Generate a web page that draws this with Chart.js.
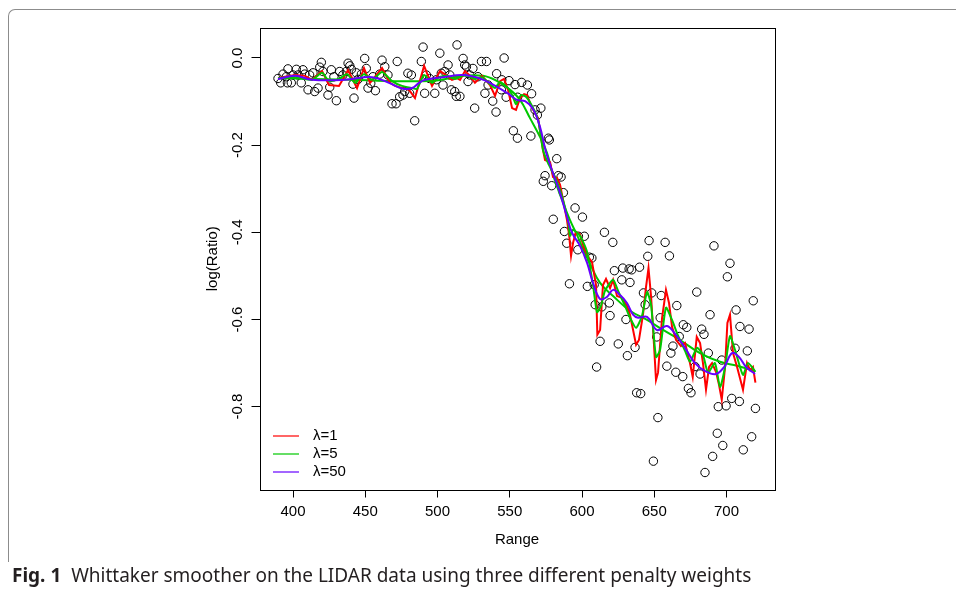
<!DOCTYPE html>
<html>
<head>
<meta charset="utf-8">
<script src="https://cdn.jsdelivr.net/npm/chart.js@4.4.1/dist/chart.umd.min.js"></script>
<style>
  body { margin: 0; background: #fff; }
  #wrap { position: relative; width: 956px; height: 593px; overflow: hidden; }
  #c { position: absolute; left: 0; top: 0; }
  .frame {
    position: absolute; left: 8px; top: 9px; width: 1000px; height: 552px;
    border-top: 1px solid #8c8c8c; border-left: 1px solid #8c8c8c;
    border-top-left-radius: 7px;
  }
  .cap {
    position: absolute; left: 12px; top: 562px; line-height: 26px;
    font-family: "Noto Sans", sans-serif; font-size: 19px; color: #231f20; white-space: nowrap;
  }
</style>
</head>
<body>
<div id="wrap">
  <canvas id="c" width="956" height="593"></canvas>
  <div class="frame"></div>
  <div class="cap"><b>Fig. 1</b>&nbsp; Whittaker smoother on the LIDAR data using three different penalty weights</div>
</div>
<script>
// LIDAR data
const pointRange = [
  389.6,391.5,393.1,395.4,396.5,396.1,398.8,400,402.3,403.5,405.7,406.9,408.1,410.4,411.5,413.8,415,417.3,418.5,419.6,420.7,424.2,425.4,426.5,428.3,430,432.3,434.5,436.9,438.1,439.3,440.4,441.5,442.2,443.8,445,447.3,449.6,450.7,451.9,453.8,455.3,457,460,
  461.6,463.5,465.7,468.5,471.3,472.1,473.8,476.1,477.3,479.5,480.7,481.9,484.2,488.8,490,491.1,492.3,494.5,498.1,499.2,501.6,502.6,503.8,505,507.3,508.5,509.6,511.9,513.5,513,515.5,517.7,518.8,520,521.1,522.3,524.5,525.7,528,530.4,532.8,533.9,535,
  538.2,540.5,540.9,544.2,544.5,546.1,547.5,549.5,553.6,555.4,558.2,562.2,565.1,
  552.5,555.3,564.6,567.5,571.5,569.1,576.7,577.4,582.5,574.4,573.2,579,583.6,585.5,587.1,595.2,600.3,580.1,587.8,589.4,597.5,601.6,597.1,605.1,606.8,615.5,621.3,591.3,603.7,608.4,622.4,628.2,627.5,632.6,
  634.4,639.8,633.2,646.4,645.5,657.5,660.5,609.1,613.7,618.9,619.4,630.4,642.5,648.2,643.7,654.8,654.1,665.6,612.5,625.1,631.4,636.7,651.7,662.9,661.5,658.7,664.9,610.1,637.8,640.6,652.5,649.4,
  691.3,702.4,700.6,679.4,718.5,688.6,706.6,670.1,672.5,682.8,684.4,709.3,715.6,667.3,687.4,714.4,705.9,669.7,673.6,675.4,678.2,681.7,696.7,703.6,708.9,694.3,699.7,720,693.6,717.4,697.4,711.6,690.4,685.1
];
const pointLogRatio = [
  -0.047,-0.057,-0.037,-0.043,-0.025,-0.057,-0.057,-0.039,-0.026,-0.039,-0.057,-0.027,-0.037,-0.073,-0.039,-0.034,-0.077,-0.069,-0.021,-0.010,-0.031,-0.085,-0.067,-0.027,-0.043,-0.098,-0.031,-0.039,-0.031,-0.012,-0.018,-0.026,-0.060,-0.092,-0.034,-0.049,-0.037,-0.001,-0.024,-0.069,-0.058,-0.043,-0.075,-0.037,
  -0.005,-0.020,-0.039,-0.105,-0.105,-0.008,-0.089,-0.085,-0.077,-0.035,-0.081,-0.039,-0.144,-0.008,0.025,-0.081,-0.039,-0.047,-0.081,-0.050,0.011,-0.035,-0.062,-0.031,-0.016,-0.039,-0.073,-0.077,0.030,-0.088,-0.088,-0.001,-0.016,-0.020,-0.054,-0.039,-0.024,-0.115,-0.043,-0.008,-0.081,-0.008,-0.062,
  -0.099,-0.124,-0.036,-0.073,-0.050,0.000,-0.090,-0.052,-0.061,-0.090,-0.056,-0.062,-0.082,
  -0.167,-0.184,-0.179,-0.119,-0.115,-0.131,-0.184,-0.188,-0.231,-0.270,-0.283,-0.293,-0.270,-0.273,-0.309,-0.344,-0.365,-0.370,-0.398,-0.425,-0.409,-0.409,-0.440,-0.457,-0.459,-0.400,-0.423,-0.518,-0.524,-0.520,-0.488,-0.482,-0.509,-0.484,
  -0.486,-0.480,-0.515,-0.419,-0.455,-0.423,-0.454,-0.566,-0.571,-0.562,-0.591,-0.600,-0.539,-0.539,-0.566,-0.545,-0.596,-0.568,-0.650,-0.656,-0.683,-0.664,-0.640,-0.661,-0.677,-0.707,-0.721,-0.709,-0.768,-0.770,-0.825,-0.925,
  -0.431,-0.471,-0.502,-0.537,-0.557,-0.589,-0.578,-0.612,-0.618,-0.622,-0.634,-0.616,-0.622,-0.639,-0.677,-0.672,-0.666,-0.731,-0.758,-0.768,-0.708,-0.725,-0.693,-0.781,-0.788,-0.800,-0.798,-0.804,-0.861,-0.869,-0.889,-0.899,-0.914,-0.951
];

// smoothed curves
const lam1Range = [389.6,401.4,408.3,413.1,420.1,424.9,431.8,438.1,444.3,449.1,453.3,461.6,467.1,470.6,475.4,480.3,484.4,490.7,496.2,501.7,506.6,510,513.5,515.6,519,522.5,525.9,530.8,536.3,539.8,543.3,546,548.8,551.6,554.3,557.1,559.9,562,564.7,567.5,569.6,573,574.4,577.9,579.9,582.7,584.8,586.9,589.6,591,592.4,593.8,595.8,598.6,601.4,604.8,606.9,609.7,610.6,612.5,614.5,616.6,619.4,621.5,624.2,627.7,631.1,633.2,637.4,639.4,642.2,644.3,646,647.8,649.8,651.2,652.6,655.4,658.1,660.2,662.3,665.1,668.5,671.3,674.7,676.6,679.4,681.7,683.7,685.8,687.9,690,692.7,694.8,696.7,699,700.6,702.4,704.5,707.3,711.4,714.2,716.3,718.3,720];
const lam1Value = [-0.046,-0.039,-0.041,-0.050,-0.030,-0.062,-0.064,-0.028,-0.069,-0.023,-0.057,-0.023,-0.057,-0.064,-0.069,-0.073,-0.092,-0.018,-0.064,-0.030,-0.041,-0.050,-0.046,-0.050,-0.030,-0.041,-0.057,-0.041,-0.062,-0.087,-0.053,-0.048,-0.073,-0.115,-0.119,-0.092,-0.083,-0.085,-0.110,-0.126,-0.138,-0.211,-0.234,-0.239,-0.273,-0.275,-0.291,-0.326,-0.372,-0.404,-0.454,-0.424,-0.399,-0.404,-0.436,-0.459,-0.468,-0.521,-0.635,-0.624,-0.521,-0.507,-0.528,-0.509,-0.546,-0.550,-0.569,-0.589,-0.658,-0.647,-0.589,-0.525,-0.482,-0.548,-0.658,-0.739,-0.722,-0.596,-0.532,-0.562,-0.617,-0.647,-0.661,-0.654,-0.700,-0.732,-0.640,-0.654,-0.700,-0.761,-0.709,-0.700,-0.720,-0.750,-0.784,-0.709,-0.608,-0.589,-0.677,-0.709,-0.761,-0.700,-0.716,-0.709,-0.745];

const lam5Range = [389.6,401.4,413.1,420.1,424.9,431.8,437.4,442.9,449.1,454.7,461.6,468.5,475.4,482.4,485.8,490.7,496.2,501,506.6,512.1,519,525.9,530.8,536.3,539.8,543.3,548.8,552.2,554.3,557.8,561.2,565.4,569.6,573,576.5,581.3,585.5,590.3,591.7,593.8,598.6,603.5,607.6,610.4,613.1,615.9,621.5,624.9,629.8,633.2,637.4,641.5,645,647.8,651.2,654,658.1,662.3,665.7,671.3,674.7,679.6,683.7,687.2,692,695.5,699,702.4,705.9,711.4,714.9,720];
const lam5Value = [-0.046,-0.044,-0.050,-0.034,-0.053,-0.048,-0.037,-0.057,-0.037,-0.050,-0.032,-0.053,-0.064,-0.069,-0.071,-0.039,-0.057,-0.044,-0.041,-0.048,-0.039,-0.048,-0.044,-0.060,-0.069,-0.055,-0.069,-0.089,-0.106,-0.085,-0.089,-0.110,-0.142,-0.211,-0.241,-0.273,-0.310,-0.372,-0.408,-0.394,-0.408,-0.445,-0.521,-0.583,-0.569,-0.534,-0.509,-0.534,-0.569,-0.596,-0.619,-0.592,-0.537,-0.567,-0.686,-0.670,-0.573,-0.601,-0.631,-0.672,-0.697,-0.665,-0.681,-0.722,-0.700,-0.755,-0.709,-0.638,-0.670,-0.727,-0.700,-0.720];

const lam50Range = [389.6,401.4,413.1,436,454.7,466.4,475.4,482.4,487.2,491.3,503.8,517.6,529.4,538.4,548.1,555,560.6,566.1,570.9,575.1,579.9,584.8,589.6,593.1,598.6,603.5,607.6,612.5,617.3,621.5,626.3,631.1,635.3,638.8,645,651.9,658.8,664.4,671.3,678.2,685.1,692.7,698.3,703.8,708.6,713.5,719.7];
const lam50Value = [-0.048,-0.041,-0.050,-0.050,-0.044,-0.057,-0.070,-0.069,-0.057,-0.050,-0.044,-0.039,-0.047,-0.061,-0.080,-0.096,-0.099,-0.117,-0.158,-0.216,-0.264,-0.310,-0.365,-0.401,-0.431,-0.470,-0.516,-0.553,-0.548,-0.532,-0.544,-0.562,-0.589,-0.596,-0.594,-0.624,-0.615,-0.633,-0.665,-0.700,-0.718,-0.725,-0.709,-0.677,-0.686,-0.709,-0.725];

// heavily smoothed fit, drawn in green without a legend entry
const fitRange = [389.6,439.4,494.8,517.6,531.5,541.2,550.2,557.1,564,570.9,575.8,579.9,586.2,591.7,596.5,600.7,605.5,612.5,621.5,633.2,645,656.1,667.8,681.6,695.5,707.3,719.7];
const fitValue = [-0.046,-0.050,-0.053,-0.041,-0.041,-0.053,-0.073,-0.096,-0.138,-0.181,-0.218,-0.268,-0.326,-0.372,-0.406,-0.438,-0.472,-0.516,-0.546,-0.580,-0.601,-0.624,-0.647,-0.677,-0.697,-0.706,-0.718];

const xTicks = [400, 450, 500, 550, 600, 650, 700];
const yTicks = [0, -0.2, -0.4, -0.6, -0.8];
const yTickLabels = ['0.0', '-0.2', '-0.4', '-0.6', '-0.8'];
const legendLabels = ['\u03bb=1', '\u03bb=5', '\u03bb=50'];

const RED = '#ff0000', GREEN = '#00c800', BLUE = '#6600ff';
const FONT = '"Liberation Sans", Arial, sans-serif';

function xy(xs, ys) {
  return xs.map((v, i) => ({ x: v, y: ys[i] }));
}

// box, rotated y labels, titles and legend
const decor = {
  id: 'decor',
  afterDraw(chart) {
    const { ctx, chartArea: a, scales: { y } } = chart;
    ctx.save();
    ctx.strokeStyle = '#000';
    ctx.lineWidth = 1;
    ctx.strokeRect(Math.round(a.left) + 0.5, Math.round(a.top) + 0.5,
      Math.round(a.right - a.left), Math.round(a.bottom - a.top));

    ctx.fillStyle = '#000';
    ctx.font = '15px ' + FONT;
    ctx.textAlign = 'center';
    ctx.textBaseline = 'middle';
    yTicks.forEach((v, i) => {
      ctx.save();
      ctx.translate(238, y.getPixelForValue(v));
      ctx.rotate(-Math.PI / 2);
      ctx.fillText(yTickLabels[i], 0, 0);
      ctx.restore();
    });

    ctx.fillText('Range', (a.left + a.right) / 2, 540);
    ctx.save();
    ctx.translate(213, (a.top + a.bottom) / 2);
    ctx.rotate(-Math.PI / 2);
    ctx.fillText('log(Ratio)', 0, 0);
    ctx.restore();

    // legend
    const cols = [RED, GREEN, BLUE];
    ctx.textAlign = 'left';
    legendLabels.forEach((t, i) => {
      const ly = 436 + i * 18;
      ctx.strokeStyle = cols[i];
      ctx.lineWidth = 1.2;
      ctx.beginPath();
      ctx.moveTo(273, ly);
      ctx.lineTo(299, ly);
      ctx.stroke();
      ctx.fillText(t, 313, ly);
    });
    ctx.restore();
  }
};

const lineDs = (data, color, order, tension) => ({
  data, showLine: true, borderColor: color, borderWidth: 2,
  pointRadius: 0, tension, order, fill: false
});

new Chart(document.getElementById('c'), {
  type: 'scatter',
  data: {
    datasets: [
      {
        data: xy(pointRange, pointLogRatio), showLine: false,
        pointRadius: 4.2, pointBorderWidth: 1, pointBorderColor: '#000',
        pointBackgroundColor: 'rgba(0,0,0,0)', order: 10
      },
      lineDs(xy(fitRange, fitValue), GREEN, 4, 0.4),
      lineDs(xy(lam1Range, lam1Value), RED, 3, 0),
      lineDs(xy(lam5Range, lam5Value), GREEN, 2, 0.2),
      lineDs(xy(lam50Range, lam50Value), BLUE, 1, 0.4)
    ]
  },
  options: {
    responsive: false,
    animation: false,
    devicePixelRatio: 1,
    layout: { padding: { left: 0, top: 28, right: 181.5, bottom: 0 } },
    plugins: { legend: { display: false }, tooltip: { enabled: false } },
    scales: {
      x: {
        type: 'linear', min: 376.8, max: 733.2,
        afterFit: s => { s.height = 103.5; },
        afterBuildTicks: s => { s.ticks = xTicks.map(v => ({ value: v })); },
        grid: { drawOnChartArea: false, drawTicks: true, tickLength: 8, color: '#000', lineWidth: 1 },
        border: { display: false },
        ticks: {
          color: '#000', font: { family: FONT, size: 15 }, padding: 5,
          maxRotation: 0, autoSkip: false, callback: v => String(v)
        }
      },
      y: {
        type: 'linear', min: -0.99, max: 0.0688,
        afterFit: s => { s.width = 259.5; },
        afterBuildTicks: s => { s.ticks = yTicks.map(v => ({ value: v })); },
        grid: { drawOnChartArea: false, drawTicks: true, tickLength: 8, color: '#000', lineWidth: 1 },
        border: { display: false },
        ticks: { display: false }
      }
    }
  },
  plugins: [decor]
});
</script>
</body>
</html>
